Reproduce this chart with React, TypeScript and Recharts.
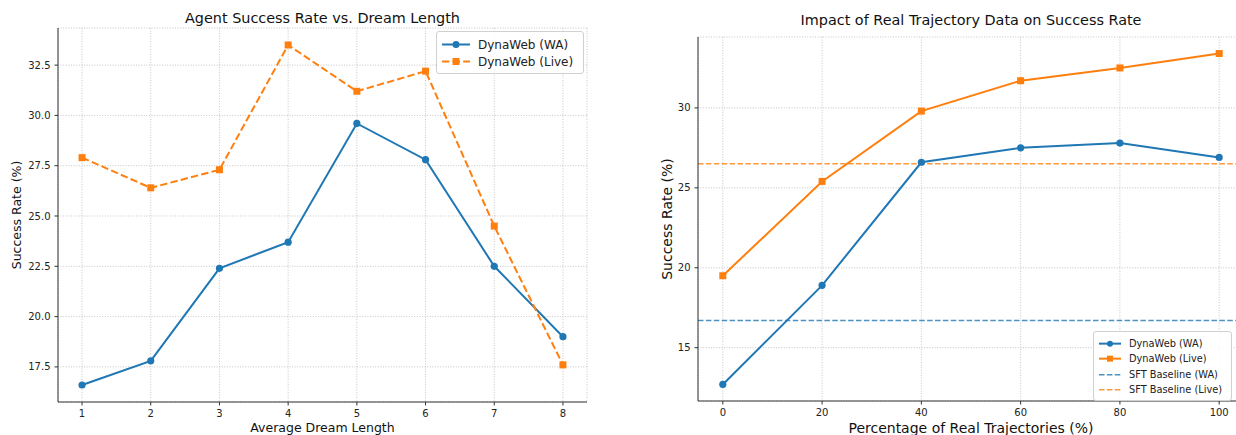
import { LineChart, Line, XAxis, YAxis, CartesianGrid, ReferenceLine, ReferenceArea, Label } from 'recharts';

// left panel: success rate vs dream length
const dreamLengths = [1, 2, 3, 4, 5, 6, 7, 8];
const dreamWA = [16.6, 17.8, 22.4, 23.7, 29.6, 27.8, 22.5, 19.0];
const dreamLive = [27.9, 26.4, 27.3, 33.5, 31.2, 32.2, 24.5, 17.6];
const dreamYTicks = [17.5, 20, 22.5, 25, 27.5, 30, 32.5];

// right panel: share of real trajectories
const realPct = [0, 20, 40, 60, 80, 100];
const realWA = [12.7, 18.9, 26.6, 27.5, 27.8, 26.9];
const realLive = [19.5, 25.4, 29.8, 31.7, 32.5, 33.4];
const realYTicks = [15, 20, 25, 30];
const baselineWA = 16.7;
const baselineLive = 26.5;

const BLUE = '#1f77b4';
const ORANGE = '#ff7f0e';
const FONT = '"DejaVu Sans", sans-serif';

const dreamData = dreamLengths.map((x, i) => ({ x, wa: dreamWA[i], live: dreamLive[i] }));
const realData = realPct.map((x, i) => ({ x, wa: realWA[i], live: realLive[i] }));

const circleDot = (color: string, r: number) => (p: any) =>
  <circle key={'c' + p.index} cx={p.cx} cy={p.cy} r={r} fill={color} />;

const squareDot = (color: string, s: number) => (p: any) =>
  <rect key={'s' + p.index} x={p.cx - s / 2} y={p.cy - s / 2} width={s} height={s} fill={color} />;

const axisProps = {
  axisLine: { stroke: '#333', strokeWidth: 1 },
  tickLine: { stroke: '#333', strokeWidth: 1 },
  tickSize: 3.5,
  tickMargin: 4,
};

type Entry = { label: string; color: string; marker?: 'circle' | 'square'; dash?: string };

const LegendBox = ({ entries, left, top, width, font, rowH, handle, ms }: any) => (
  <div
    style={{
      position: 'absolute', left, top, width, padding: '4px 0 3px 0',
      border: '1px solid #d0d0d0', borderRadius: 3, background: 'rgba(255,255,255,0.85)',
      fontFamily: FONT, fontSize: font, color: '#222', boxSizing: 'border-box',
    }}
  >
    {entries.map((e: Entry) => (
      <div key={e.label} style={{ display: 'flex', alignItems: 'center', height: rowH }}>
        <svg width={handle + 10} height={rowH} style={{ flex: 'none' }}>
          <line x1={5} x2={5 + handle} y1={rowH / 2} y2={rowH / 2} stroke={e.color}
            strokeWidth={e.marker ? 2 : 1.5} strokeDasharray={e.dash} strokeOpacity={e.marker ? 1 : 0.8} />
          {e.marker === 'circle' && <circle cx={5 + handle / 2} cy={rowH / 2} r={ms / 2} fill={e.color} />}
          {e.marker === 'square' && (
            <rect x={5 + handle / 2 - ms / 2} y={rowH / 2 - ms / 2} width={ms} height={ms} fill={e.color} />
          )}
        </svg>
        <span style={{ marginLeft: 3, whiteSpace: 'nowrap' }}>{e.label}</span>
      </div>
    ))}
  </div>
);

const leftLegend: Entry[] = [
  { label: 'DynaWeb (WA)', color: BLUE, marker: 'circle' },
  { label: 'DynaWeb (Live)', color: ORANGE, marker: 'square', dash: '7.4 3.2' },
];

const rightLegend: Entry[] = [
  { label: 'DynaWeb (WA)', color: BLUE, marker: 'circle' },
  { label: 'DynaWeb (Live)', color: ORANGE, marker: 'square' },
  { label: 'SFT Baseline (WA)', color: BLUE, dash: '5.5 2.4' },
  { label: 'SFT Baseline (Live)', color: ORANGE, dash: '5.5 2.4' },
];

const titleStyle = (left: number, width: number, top: number): any => ({
  position: 'absolute', left, width, top, textAlign: 'center',
  fontFamily: FONT, fontSize: 14.4, lineHeight: '14px', color: '#111',
});

export default function App() {
  return (
    <div style={{ position: 'absolute', left: 0, top: 0, width: 1236, height: 435, overflow: 'hidden', background: '#fff' }}>
      <div style={titleStyle(58, 529, 11)}>Agent Success Rate vs. Dream Length</div>
      <div style={titleStyle(698, 546, 13)}>Impact of Real Trajectory Data on Success Rate</div>

      <div style={{ position: 'absolute', left: 0, top: 0 }}>
        <LineChart width={600} height={435} data={dreamData}
          margin={{ top: 28, right: 13, bottom: 0, left: 0 }} style={{ fontFamily: FONT }}>
          <CartesianGrid stroke="#b8b8b8" strokeDasharray="1 1.6" strokeOpacity={0.8} />
          <XAxis dataKey="x" type="number" domain={[0.65, 8.35]} ticks={dreamLengths} allowDataOverflow
            height={33} tick={{ fill: '#222', fontSize: 10 }} {...axisProps}>
            <Label value="Average Dream Length" position="insideBottom" offset={3}
              style={{ fontSize: 12.5, fill: '#111' }} />
          </XAxis>
          <YAxis type="number" domain={[15.755, 34.345]} ticks={dreamYTicks} allowDataOverflow width={58}
            tickFormatter={(v: number) => v.toFixed(1)} tick={{ fill: '#222', fontSize: 10 }} {...axisProps}>
            <Label value="Success Rate (%)" angle={-90} position="insideLeft" offset={17}
              style={{ fontSize: 12.5, fill: '#111', textAnchor: 'middle' }} />
          </YAxis>
          <ReferenceArea fill="none" stroke="#333" strokeWidth={1} ifOverflow="visible" />
          <Line dataKey="wa" stroke={BLUE} strokeWidth={2} dot={circleDot(BLUE, 3.6)}
            activeDot={false} isAnimationActive={false} />
          <Line dataKey="live" stroke={ORANGE} strokeWidth={2} strokeDasharray="7.4 3.2"
            dot={squareDot(ORANGE, 7)} activeDot={false} isAnimationActive={false} />
        </LineChart>
      </div>

      <div style={{ position: 'absolute', left: 640, top: 0 }}>
        <LineChart width={610} height={435} data={realData}
          margin={{ top: 37, right: 6, bottom: 0, left: 0 }} style={{ fontFamily: FONT }}>
          <CartesianGrid stroke="#b8b8b8" strokeDasharray="1 1.6" strokeOpacity={0.8} />
          <XAxis dataKey="x" type="number" domain={[-5, 105]} ticks={realPct} allowDataOverflow
            height={34} tick={{ fill: '#222', fontSize: 10 }} {...axisProps}>
            <Label value="Percentage of Real Trajectories (%)" position="insideBottom" offset={2}
              style={{ fontSize: 14, fill: '#111' }} />
          </XAxis>
          <YAxis type="number" domain={[11.665, 34.435]} ticks={realYTicks} allowDataOverflow width={58}
            tick={{ fill: '#222', fontSize: 10 }} {...axisProps}>
            <Label value="Success Rate (%)" angle={-90} position="insideLeft" offset={27}
              style={{ fontSize: 14, fill: '#111', textAnchor: 'middle' }} />
          </YAxis>
          <ReferenceArea fill="none" stroke="#222" strokeWidth={1} ifOverflow="visible" />
          <ReferenceLine y={baselineWA} stroke={BLUE} strokeOpacity={0.8} strokeWidth={1.5} strokeDasharray="5.5 2.4" />
          <ReferenceLine y={baselineLive} stroke={ORANGE} strokeOpacity={0.8} strokeWidth={1.5} strokeDasharray="5.5 2.4" />
          <Line dataKey="wa" stroke={BLUE} strokeWidth={2} dot={circleDot(BLUE, 3.6)}
            activeDot={false} isAnimationActive={false} />
          <Line dataKey="live" stroke={ORANGE} strokeWidth={2} dot={squareDot(ORANGE, 7)}
            activeDot={false} isAnimationActive={false} />
        </LineChart>
      </div>

      <LegendBox entries={leftLegend} left={436} top={31} width={148} font={12} rowH={17} handle={28} ms={7} />
      <LegendBox entries={rightLegend} left={1093} top={331} width={139} font={9.8} rowH={15.3} handle={22} ms={6} />
    </div>
  );
}
